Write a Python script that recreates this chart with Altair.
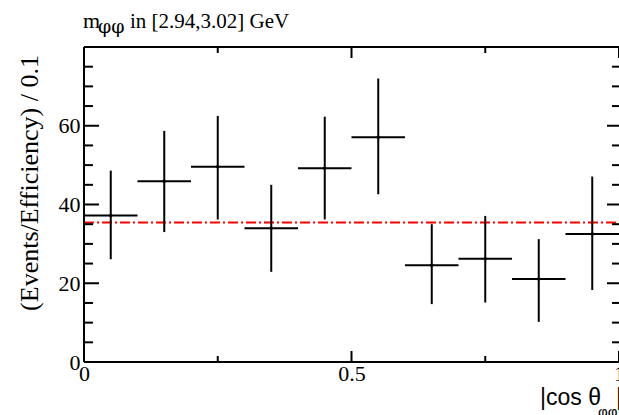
import altair as alt
import pandas as pd

# ---- data ----
bin_centers = [0.05, 0.15, 0.25, 0.35, 0.45, 0.55, 0.65, 0.75, 0.85, 0.95]
bin_half = 0.05
values = [37.2, 45.9, 49.6, 34.0, 49.2, 57.1, 24.6, 26.2, 21.1, 32.5]
err_high = [48.6, 58.7, 62.5, 45.0, 62.3, 72.0, 35.0, 37.1, 31.2, 47.1]
err_low = [26.1, 33.0, 36.2, 22.9, 36.2, 42.6, 14.7, 15.1, 10.2, 18.3]
fit_level = [35.4]

x_labels = [0, 0.5, 1]
y_labels = [0, 20, 40, 60]
x_ticks_major = [0, 0.5, 1]
x_ticks_minor = [0.25, 0.75]
y_ticks_major = [0, 20, 40, 60, 80]
y_ticks_minor = [5, 10, 15, 25, 30, 35, 45, 50, 55, 65, 70, 75]

title_main = ["m"]
title_sub = ["φφ"]
title_rest = ["in [2.94,3.02] GeV"]
ytitle = ["(Events/Efficiency) / 0.1"]
xtitle_main = ["|cos θ"]
xtitle_sub = ["φφ"]
xtitle_end = ["|"]

# ---- layout ----
W, H = 535, 315
SERIF = "Liberation Serif"
SANS = "Liberation Sans"

xs = alt.Scale(domain=[0, 1], nice=False, zero=False)
ys = alt.Scale(domain=[0, 80], nice=False, zero=False)
x_axis = alt.Axis(values=x_labels, format=".1~f", title=None, labelPadding=1,
                  labelFlush=False, labelOverlap=False, domain=False, ticks=False,
                  grid=False)
y_axis = alt.Axis(values=y_labels, format=".1~f", title=None, labelPadding=4,
                  labelOverlap=False, domain=False, ticks=False, grid=False)

df = pd.DataFrame({
    "xc": bin_centers,
    "xlo": [c - bin_half for c in bin_centers],
    "xhi": [c + bin_half for c in bin_centers],
    "val": values,
    "hi": err_high,
    "lo": err_low,
})

one = pd.DataFrame({"d": [0]})

def X(f):
    return alt.X(f, scale=xs, axis=x_axis)

def Y(f):
    return alt.Y(f, scale=ys, axis=y_axis)

hbar = alt.Chart(df).mark_rule(color="black", strokeWidth=2).encode(
    x=X("xlo:Q"), x2="xhi:Q", y=Y("val:Q"))
vbar = alt.Chart(df).mark_rule(color="black", strokeWidth=2).encode(
    x=X("xc:Q"), y=Y("lo:Q"), y2="hi:Q")
pts = alt.Chart(df).mark_point(filled=True, color="black", size=12, opacity=1).encode(
    x=X("xc:Q"), y=Y("val:Q"))

fit = alt.Chart(pd.DataFrame({"f": fit_level})).mark_rule(
    color="#ff0000", strokeWidth=2, strokeDash=[10, 3, 2, 3]).encode(
    y=Y("f:Q"), x=alt.value(0), x2=alt.value(W))

# frame (top, left, bottom)
frame_top = alt.Chart(one).mark_rule(color="black", strokeWidth=2).encode(
    x=alt.value(0), x2=alt.value(W), y=alt.value(0))
frame_bottom = alt.Chart(one).mark_rule(color="black", strokeWidth=2).encode(
    x=alt.value(0), x2=alt.value(W), y=alt.value(H))
frame_left = alt.Chart(one).mark_rule(color="black", strokeWidth=2).encode(
    x=alt.value(0), y=alt.value(0), y2=alt.value(H))

def yticks(vals, x0, x1):
    return alt.Chart(pd.DataFrame({"v": vals})).mark_rule(color="black", strokeWidth=2).encode(
        y=Y("v:Q"), x=alt.value(x0), x2=alt.value(x1))

def xticks(vals, y0, y1):
    return alt.Chart(pd.DataFrame({"v": vals})).mark_rule(color="black", strokeWidth=2).encode(
        x=X("v:Q"), y=alt.value(y0), y2=alt.value(y1))

ticks = [
    yticks(y_ticks_major, 0, 15), yticks(y_ticks_minor, 0, 9),
    yticks(y_ticks_major, W - 12, W), yticks(y_ticks_minor, W - 7, W),
    xticks(x_ticks_major, H - 11, H), xticks(x_ticks_minor, H - 6, H),
    xticks(x_ticks_major, 0, 11), xticks(x_ticks_minor, 0, 6),
]

def txt(vals, x, y, size, font, align="left", angle=0, baseline="alphabetic"):
    return alt.Chart(pd.DataFrame({"t": vals})).mark_text(
        align=align, baseline=baseline, fontSize=size, font=font, color="black",
        angle=angle).encode(text="t:N", x=alt.value(x), y=alt.value(y))

texts = [
    txt(title_main, -1, -19, 22, SERIF),
    txt(title_sub, 14, -14, 19, "DejaVu Serif"),
    txt(title_rest, 46, -19, 21, SERIF),
    txt(ytitle, -46, 136, 26, SERIF, align="center", angle=270),
    txt(xtitle_main, 456, 358, 23, SANS),
    txt(xtitle_sub, 514, 370, 15, SANS),
    txt(xtitle_end, 532, 358, 23, SANS),
]

chart = alt.layer(pts, fit, hbar, vbar, frame_top, frame_bottom, frame_left,
                  *ticks, *texts).properties(
    width=W, height=H,
    padding={"left": 84, "top": 47, "right": 0, "bottom": 53},
    autosize=alt.AutoSizeParams(type="none"),
    background="white",
).configure_view(stroke=None).configure_axis(
    domain=False, ticks=False, grid=False,
    labelFont=SERIF, labelFontSize=22, labelColor="black",
)

chart.save("out.html", embed_options={"renderer": "svg", "actions": False})
